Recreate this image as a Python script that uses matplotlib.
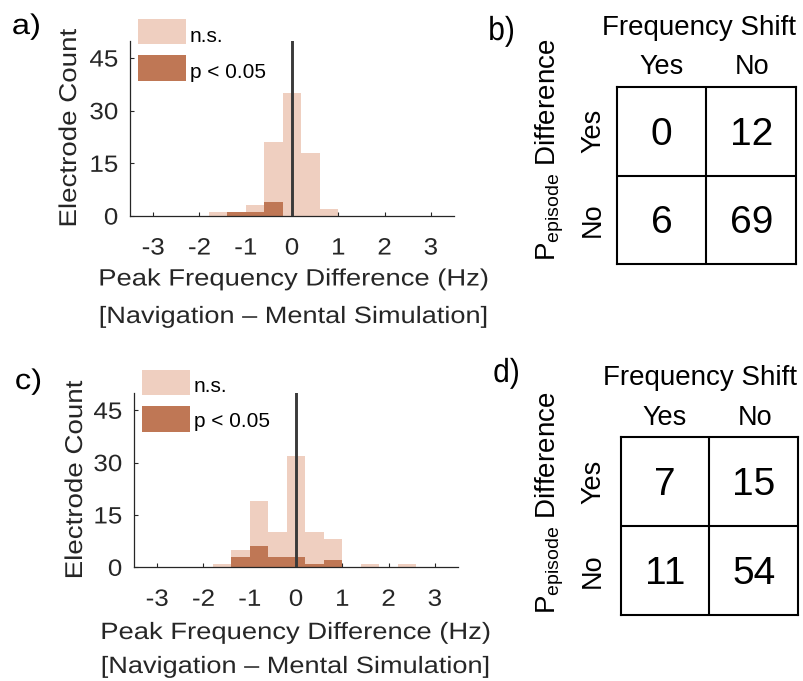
import matplotlib
matplotlib.use("Agg")
import matplotlib.pyplot as plt
from matplotlib.patches import Rectangle
from matplotlib.patheffects import AbstractPathEffect
from matplotlib.transforms import Affine2D, ScaledTranslation

# ---------------- data ----------------
bin_width = 0.4
centers_a = [-1.6, -1.2, -0.8, -0.4, 0.0, 0.4, 0.8]
ns_a = [1, 1, 3, 21, 35, 18, 2]
sig_a = [0, 1, 1, 4, 0, 0, 0]

centers_c = [-1.6, -1.2, -0.8, -0.4, 0.0, 0.4, 0.8, 1.2, 1.6, 2.0, 2.4]
ns_c = [1, 5, 19, 10, 32, 10, 8, 0, 1, 0, 1]
sig_c = [0, 3, 6, 3, 3, 1, 2, 0, 0, 0, 0]

xticks = [-3, -2, -1, 0, 1, 2, 3]
yticks = [0, 15, 30, 45]

table_b = [[0, 12], [6, 69]]
table_d = [[7, 15], [11, 54]]
col_labels = ["Yes", "No"]
row_labels = ["Yes", "No"]

xlabel1 = "Peak Frequency Difference (Hz)"
xlabel2 = "[Navigation \u2013 Mental Simulation]"
ylabel = "Electrode Count"
legend_labels = ["n.s.", "p < 0.05"]

# ---------------- style ----------------
LIGHT = "#EFCFC0"
DARK = "#BF7755"
TXT = "#262626"
plt.rcParams["font.family"] = ["Liberation Sans", "DejaVu Sans"]
plt.rcParams["mathtext.default"] = "regular"

W, H = 804, 681
fig = plt.figure(figsize=(W / 100, H / 100), dpi=100)


def fx(x):
    return x / W


def fy(y):
    return 1 - y / H


class Stretch(AbstractPathEffect):
    """Horizontally stretch glyphs (in text direction) about an anchor."""

    def __init__(self, sx, anchor="center"):
        super().__init__()
        self.sx = sx
        self.anchor = anchor

    def draw_path(self, renderer, gc, tpath, affine, rgbFace=None):
        ext = tpath.get_extents()
        if self.anchor == "left":
            c = ext.x0
        elif self.anchor == "right":
            c = ext.x1
        else:
            c = 0.5 * (ext.x0 + ext.x1)
        t = Affine2D().translate(-c, 0).scale(self.sx, 1).translate(c, 0) + affine
        renderer.draw_path(gc, tpath, t, rgbFace)


def ptext(x, y, s, sx=1.0, anchor="center", **kw):
    t = fig.text(fx(x), fy(y), s, **kw)
    if sx != 1.0:
        t.set_path_effects([Stretch(sx, anchor)])
    return t


def hist_panel(box, centers, ns, sig, ylab_x, xl_y, xl_x, leg):
    left, top, right, bottom = box
    ax = fig.add_axes([fx(left), fy(bottom), (right - left) / W, (bottom - top) / H])
    ax.bar(centers, ns, width=bin_width, color=LIGHT, edgecolor="none", zorder=1)
    ax.bar(centers, sig, width=bin_width, color=DARK, edgecolor="none", zorder=2)
    ax.axvline(0, color="#3a3a3a", lw=2.1, zorder=3)
    ax.set_xlim(-3.5, 3.5)
    ax.set_ylim(0, 50)
    ax.set_xticks(xticks)
    ax.set_xticklabels([str(v) for v in xticks])
    ax.set_yticks(yticks)
    ax.set_yticklabels([str(v) for v in yticks])
    for s in ["top", "right"]:
        ax.spines[s].set_visible(False)
    for s in ["left", "bottom"]:
        ax.spines[s].set_color(TXT)
        ax.spines[s].set_linewidth(0.9)
    ax.tick_params(axis="both", direction="in", length=3, width=0.8,
                   colors=TXT, labelsize=17)
    ax.tick_params(axis="x", pad=15.5)
    ax.tick_params(axis="y", pad=8.5)
    for lab in ax.get_xticklabels():
        lab.set_path_effects([Stretch(1.1, "center")])
    for lab in ax.get_yticklabels():
        lab.set_path_effects([Stretch(1.1, "right")])
    # y label
    ptext(ylab_x, (top + bottom) / 2, ylabel, sx=1.14, rotation=90,
          rotation_mode="anchor", ha="center", va="baseline",
          fontsize=17.5, color=TXT)
    # x labels
    ptext(xl_x, xl_y[0], xlabel1, sx=1.16, ha="center", va="baseline",
          fontsize=17, color=TXT)
    ptext(xl_x, xl_y[1], xlabel2, sx=1.15, ha="center", va="baseline",
          fontsize=17, color=TXT)
    # legend
    lx, ly_ns, ly_p, tx, tb_ns, tb_p = leg
    fig.add_artist(Rectangle((fx(lx), fy(ly_ns + 25)), 48 / W, 25 / H,
                             transform=fig.transFigure, color=LIGHT, lw=0))
    fig.add_artist(Rectangle((fx(lx), fy(ly_p + 26)), 48 / W, 26 / H,
                             transform=fig.transFigure, color=DARK, lw=0))
    ptext(tx, tb_ns, legend_labels[0], ha="left", va="baseline",
          fontsize=15, color="black")
    ptext(tx, tb_p, legend_labels[1], ha="left", va="baseline",
          fontsize=15, color="black")
    return ax


def table_panel(box, table, fs_y, head_y, fs_x, col_x, rowlab_x, p_center_y):
    left, top, right, bottom = box
    ax = fig.add_axes([fx(left), fy(bottom), (right - left) / W, (bottom - top) / H])
    ax.set_xlim(0, 2)
    ax.set_ylim(2, 0)
    ax.set_xticks([])
    ax.set_yticks([])
    for s in ax.spines.values():
        s.set_linewidth(1.5)
        s.set_color("black")
    ax.axvline(1, color="black", lw=1.5)
    ax.axhline(1, color="black", lw=1.5)
    off = ScaledTranslation(0, -0.135, fig.dpi_scale_trans)
    for i, row in enumerate(table):
        for j, v in enumerate(row):
            ax.text(j + 0.5, i + 0.5, str(v), ha="center", va="baseline",
                    fontsize=28, color="black", transform=ax.transData + off)
    # headers
    ptext(fs_x, fs_y, "Frequency Shift", ha="center", va="baseline",
          fontsize=20, color="black")
    for j, lab in enumerate(col_labels):
        ptext(col_x[j], head_y, lab, ha="center", va="baseline",
              fontsize=19.5, color="black")
    cell_h = (bottom - top) / 2
    for i, lab in enumerate(row_labels):
        ptext(rowlab_x, top + cell_h * (i + 0.5), lab, rotation=90,
              rotation_mode="anchor", ha="center", va="baseline",
              fontsize=19.5, color="black")
    ptext(555, p_center_y, r"$P_{episode}$ Difference", rotation=90,
          rotation_mode="anchor", ha="center", va="baseline",
          fontsize=20, color="black")
    return ax


hist_panel((130, 40.5, 454, 216), centers_a, ns_a, sig_a, 76,
           (285.5, 323), 294, (138, 19, 55, 190, 41.5, 78))
hist_panel((134, 392.8, 458, 567.3), centers_c, ns_c, sig_c, 82,
           (639, 673), 296, (142, 370, 406, 194, 391.5, 427))

table_panel((617, 87, 796, 264), table_b, 35, 74, 699, (662, 752), 600, 150)
table_panel((621, 437, 798, 615), table_d, 385, 425, 700, (665, 755), 600, 503)

# panel labels
ptext(12, 34, "a)", sx=1.15, anchor="left", ha="left", va="baseline",
      fontsize=20.5, color="black")
ptext(15, 389, "c)", sx=1.15, anchor="left", ha="left", va="baseline",
      fontsize=20.5, color="black")
ptext(488, 40, "b)", sx=0.9, anchor="left", ha="left", va="baseline",
      fontsize=24, color="black")
ptext(493, 382, "d)", sx=0.9, anchor="left", ha="left", va="baseline",
      fontsize=24, color="black")

fig.savefig("out.png", dpi=100)
